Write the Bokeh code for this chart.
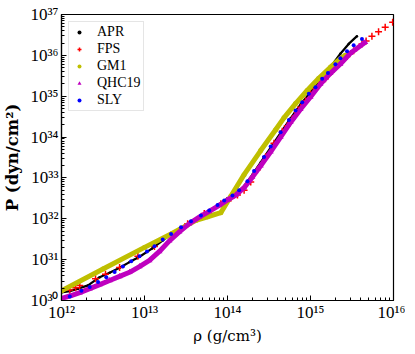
from bokeh.plotting import figure
from bokeh.models import Range1d, FixedTicker, CustomJSTickFormatter, Legend, LegendItem
from bokeh.embed import file_html
from bokeh.resources import INLINE

# ---- data (log10 rho [g/cm^3], log10 P [dyn/cm^2]) ----
apr_logrho = [12.00, 12.10, 12.20, 12.32, 12.46, 12.58, 12.70, 12.82, 12.94, 13.09, 13.22,
              13.32, 13.44, 13.56, 13.68, 13.80, 13.92, 14.00, 14.10, 14.20, 14.30, 14.40,
              14.52, 14.64, 14.76, 14.88, 15.00, 15.12, 15.24, 15.36, 15.46, 15.56]
apr_logp = [30.20, 30.23, 30.29, 30.37, 30.57, 30.68, 30.80, 30.94, 31.07, 31.27, 31.47,
            31.62, 31.78, 31.93, 32.07, 32.22, 32.38, 32.50, 32.62, 32.80, 33.08, 33.38,
            33.74, 34.10, 34.46, 34.80, 35.10, 35.40, 35.71, 36.04, 36.28, 36.47]

fps_logrho = [12.10, 12.17, 12.22, 12.41, 12.53, 12.70, 12.92, 13.12, 13.32, 13.52, 13.72,
              13.92, 14.04, 14.12, 14.20, 14.28, 14.36, 14.46, 14.56, 14.66, 14.72, 14.78,
              14.84, 14.88, 14.94, 15.00, 15.06, 15.12, 15.18, 15.25, 15.30, 15.36, 15.44,
              15.52, 15.62, 15.67, 15.74, 15.82, 15.90, 15.99]
fps_logp = [30.26, 30.31, 30.37, 30.53, 30.64, 30.81, 31.08, 31.32, 31.60, 31.88, 32.13,
            32.37, 32.50, 32.58, 32.70, 32.90, 33.20, 33.52, 33.85, 34.14, 34.28, 34.45,
            34.61, 34.73, 34.89, 35.06, 35.18, 35.34, 35.43, 35.59, 35.71, 35.83, 35.97,
            36.11, 36.28, 36.35, 36.47, 36.58, 36.69, 36.81]

gm1_logrho = [12.00, 12.50, 13.00, 13.32, 13.62, 13.76, 13.92, 14.04, 14.20, 14.40, 14.58,
              14.68, 14.82, 14.96, 15.10, 15.24, 15.36, 15.42]
gm1_logp = [30.24, 30.77, 31.30, 31.63, 31.96, 32.05, 32.15, 32.55, 33.08, 33.67, 34.18,
            34.47, 34.82, 35.14, 35.44, 35.71, 35.92, 36.00]

qhc_logrho = [11.98, 12.10, 12.22, 12.34, 12.46, 12.58, 12.70, 12.82, 12.94, 13.06, 13.18,
              13.30, 13.42, 13.54, 13.66, 13.78, 13.90, 14.00, 14.10, 14.20, 14.30, 14.40,
              14.52, 14.64, 14.76, 14.88, 15.00, 15.12, 15.24, 15.36, 15.48, 15.66]
qhc_logp = [30.04, 30.11, 30.19, 30.29, 30.39, 30.49, 30.59, 30.69, 30.83, 30.98, 31.20,
            31.46, 31.68, 31.88, 32.04, 32.18, 32.33, 32.46, 32.58, 32.76, 33.02, 33.30,
            33.64, 34.00, 34.36, 34.68, 34.98, 35.30, 35.56, 35.79, 36.05, 36.32]

sly_logrho = [12.10, 12.24, 12.34, 12.44, 12.54, 12.64, 12.74, 12.84, 12.94, 13.03, 13.12,
              13.22, 13.32, 13.44, 13.56, 13.68, 13.78, 13.88, 13.96, 14.06, 14.14, 14.24,
              14.32, 14.44, 14.52, 14.64, 14.74, 14.82, 14.90, 14.98, 15.06, 15.14, 15.21,
              15.30, 15.36, 15.44, 15.52, 15.62]
sly_logp = [30.10, 30.24, 30.33, 30.45, 30.57, 30.70, 30.83, 30.96, 31.08, 31.20, 31.33,
            31.49, 31.63, 31.79, 31.94, 32.08, 32.20, 32.34, 32.45, 32.57, 32.70, 32.92,
            33.17, 33.51, 33.77, 34.12, 34.42, 34.65, 34.85, 35.06, 35.22, 35.43, 35.57,
            35.78, 35.93, 36.10, 36.25, 36.40]

x_decades = [12, 13, 14, 15, 16]
y_decades = [30, 31, 32, 33, 34, 35, 36, 37]
x_title = "\u03c1 (g/cm\u00b3)"
y_title = "P (dyn/cm\u00b2)"


def pw(a):
    return [10.0 ** v for v in a]


SERIF = "Liberation Serif"

p = figure(width=405, height=352, x_axis_type="log", y_axis_type="log",
           x_range=Range1d(1e12, 1e16), y_range=Range1d(1e30, 1e37),
           output_backend="svg", toolbar_location=None,
           min_border_left=60, min_border_right=12, min_border_top=14, min_border_bottom=52)
p.grid.visible = False
p.outline_line_color = "black"
p.outline_line_width = 1.2
p.background_fill_color = "white"
p.border_fill_color = "white"

# glyphs (drawn in legend order)
p.line(pw(apr_logrho), pw(apr_logp), line_color="black", line_width=2.2)
r_apr = p.scatter(pw(apr_logrho), pw(apr_logp), marker="circle", size=2.5,
                  fill_color="black", line_color=None)
r_fps = p.scatter(pw(fps_logrho), pw(fps_logp), marker="cross", size=7,
                  line_color="#ff0000", line_width=1.5)
p.line(pw(gm1_logrho), pw(gm1_logp), line_color="#bfbf00", line_width=5)
r_gm1 = p.scatter(pw(gm1_logrho), pw(gm1_logp), marker="circle", size=5,
                  fill_color="#bfbf00", line_color=None)
p.line(pw(qhc_logrho), pw(qhc_logp), line_color="#bf00bf", line_width=5)
r_qhc = p.scatter(pw(qhc_logrho), pw(qhc_logp), marker="triangle", size=6,
                  fill_color="#bf00bf", line_color=None)
r_sly = p.scatter(pw(sly_logrho), pw(sly_logp), marker="circle", size=4,
                  fill_color="#0000ff", line_color=None)

# axes
sup_js = """
const sup = {'0':'\u2070','1':'\u00b9','2':'\u00b2','3':'\u00b3','4':'\u2074',
             '5':'\u2075','6':'\u2076','7':'\u2077','8':'\u2078','9':'\u2079','-':'\u207b'};
const e = Math.round(Math.log10(tick));
return '10' + String(e).split('').map(c => sup[c]).join('');
"""
xmin = [m * 10.0 ** e for e in x_decades[:-1] for m in range(2, 10)]
ymin = [m * 10.0 ** e for e in y_decades[:-1] for m in range(2, 10)]
p.xaxis.ticker = FixedTicker(ticks=[10.0 ** e for e in x_decades], minor_ticks=xmin)
p.yaxis.ticker = FixedTicker(ticks=[10.0 ** e for e in y_decades], minor_ticks=ymin)
for ax in (p.xaxis[0], p.yaxis[0]):
    ax.formatter = CustomJSTickFormatter(code=sup_js)
    ax.major_tick_in = 5
    ax.major_tick_out = 0
    ax.minor_tick_in = 3
    ax.minor_tick_out = 0
    ax.major_tick_line_color = "black"
    ax.minor_tick_line_color = "black"
    ax.axis_line_color = "black"
    ax.axis_line_width = 1.2
    ax.major_label_text_font = SERIF
    ax.major_label_text_font_size = "17px"
    ax.major_label_text_color = "black"
    ax.axis_label_text_color = "black"

p.xaxis.major_label_standoff = 2
p.yaxis.major_label_standoff = 3
p.xaxis.axis_label = x_title
p.xaxis.axis_label_text_font = "DejaVu Serif"
p.xaxis.axis_label_text_font_size = "15px"
p.xaxis.axis_label_text_font_style = "normal"
p.xaxis.axis_label_standoff = 2
p.yaxis.axis_label = y_title
p.yaxis.axis_label_text_font = "DejaVu Serif"
p.yaxis.axis_label_text_font_size = "16.5px"
p.yaxis.axis_label_text_font_style = "bold"
p.yaxis.axis_label_standoff = 5

legend = Legend(items=[
    LegendItem(label="APR", renderers=[r_apr]),
    LegendItem(label="FPS", renderers=[r_fps]),
    LegendItem(label="GM1", renderers=[r_gm1]),
    LegendItem(label="QHC19", renderers=[r_qhc]),
    LegendItem(label="SLY", renderers=[r_sly]),
], location="top_left")
legend.margin = 7
legend.padding = 2
legend.spacing = 1
legend.glyph_width = 16
legend.glyph_height = 10
legend.label_height = 16
legend.label_standoff = 10
legend.label_text_font = SERIF
legend.label_text_font_size = "14px"
legend.label_text_color = "black"
legend.border_line_color = "#cccccc"
legend.border_line_width = 1
legend.background_fill_alpha = 0.8
p.add_layout(legend)

open("out.html", "w").write(file_html(p, INLINE))
